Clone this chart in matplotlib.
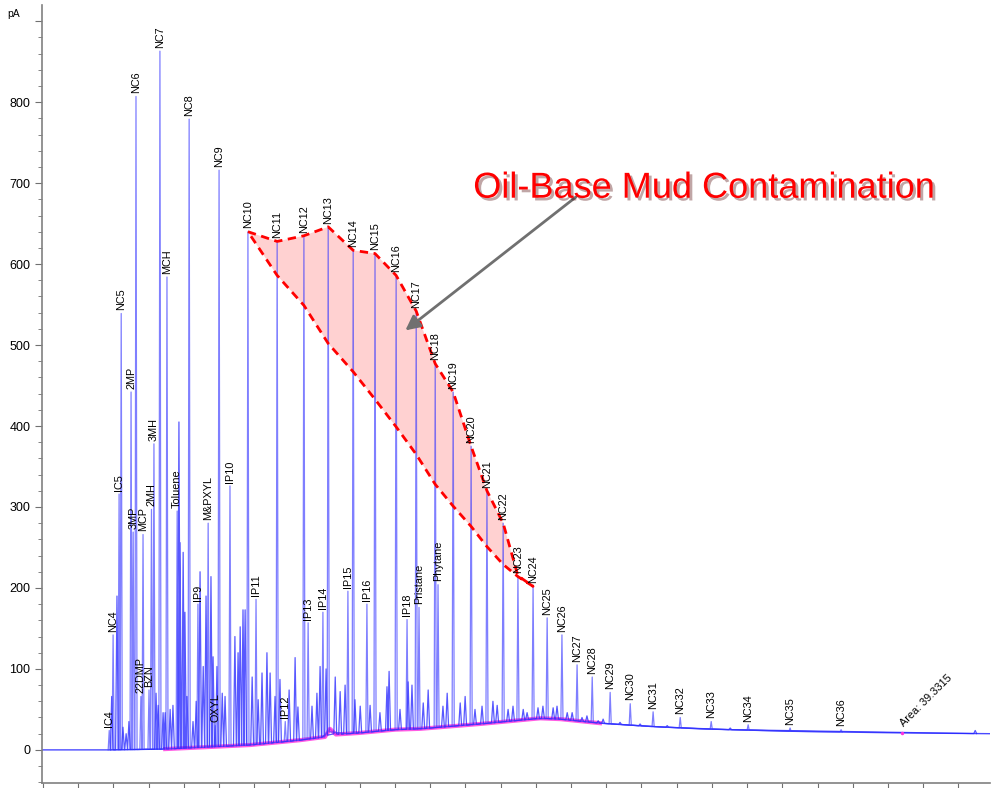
import numpy as np
import matplotlib
matplotlib.use("Agg")
import matplotlib.pyplot as plt
import matplotlib.patheffects as pe

plt.rcParams['font.family'] = ['Liberation Sans', 'DejaVu Sans']

# labelled peaks: retention time (min), apex height (pA)
peak_names = ["IC4", "NC4", "IC5", "NC5", "2MP", "3MP", "NC6", "22DMP", "MCP", "BZN",
              "2MH", "3MH", "NC7", "MCH", "Toluene", "NC8", "IP9", "M&PXYL", "OXYL", "NC9",
              "IP10", "NC10", "IP11", "NC11", "IP12", "NC12", "IP13", "IP14", "NC13", "IP15",
              "NC14", "IP16", "NC15", "NC16", "IP18", "NC17", "Pristane", "NC18", "Phytane", "NC19",
              "NC20", "NC21", "NC22", "NC23", "NC24", "NC25", "NC26", "NC27", "NC28", "NC29",
              "NC30", "NC31", "NC32", "NC33", "NC34", "NC35", "NC36"]
peak_rt = [1.88, 1.99, 2.16, 2.22, 2.50, 2.56, 2.64, 2.78, 2.84, 3.01,
           3.08, 3.15, 3.32, 3.52, 3.81, 4.15, 4.40, 4.69, 4.89, 5.00,
           5.31, 5.82, 6.05, 6.65, 6.88, 7.41, 7.53, 7.95, 8.10, 8.66,
           8.81, 9.20, 9.43, 10.03, 10.34, 10.60, 10.68, 11.14, 11.22, 11.65,
           12.16, 12.61, 13.07, 13.49, 13.92, 14.32, 14.74, 15.17, 15.60, 16.11,
           16.68, 17.33, 18.10, 18.98, 20.03, 21.22, 22.67]
peak_h = [24, 142, 316, 539, 442, 269, 807, 66, 266, 74,
          297, 378, 863, 584, 295, 779, 180, 280, 30, 716,
          326, 640, 186, 628, 35, 635, 157, 170, 646, 196,
          617, 180, 613, 586, 161, 542, 176, 477, 204, 442,
          375, 320, 280, 215, 202, 163, 142, 105, 90, 71,
          57, 47, 40, 35, 31, 27, 25]

# unlabelled peaks
minor_rt = [1.95, 2.10, 2.27, 2.36, 2.44, 3.21, 3.27, 3.41, 3.47, 3.61,
            3.69, 3.86, 3.89, 3.98, 4.03, 4.09, 4.26, 4.35, 4.46, 4.55,
            4.63, 4.77, 4.83, 4.94, 5.09, 5.17, 5.45, 5.54, 5.60, 5.68,
            5.74, 5.94, 6.11, 6.22, 6.36, 6.45, 6.59, 6.73, 6.99, 7.16,
            7.24, 7.64, 7.78, 7.87, 8.04, 8.30, 8.44, 8.58, 8.86, 9.01,
            9.29, 9.57, 9.77, 9.83, 10.14, 10.37, 10.48, 10.80, 10.94, 11.36,
            11.48, 11.85, 11.99, 12.27, 12.47, 12.78, 12.90, 13.21, 13.35, 13.64,
            13.75, 14.06, 14.20, 14.49, 14.60, 14.89, 15.03, 15.31, 15.45, 15.77,
            15.91, 16.39, 16.96, 17.73, 19.52, 26.48]
minor_h = [66, 190, 28, 20, 35, 70, 55, 46, 46, 50,
           55, 405, 256, 244, 170, 66, 35, 60, 220, 103,
           190, 214, 115, 103, 70, 66, 140, 120, 152, 173,
           173, 90, 62, 95, 120, 95, 66, 87, 74, 114,
           53, 54, 70, 103, 100, 90, 72, 80, 62, 54,
           55, 46, 78, 97, 50, 84, 80, 58, 74, 54,
           70, 58, 66, 50, 54, 60, 55, 50, 54, 50,
           46, 52, 54, 52, 54, 46, 46, 40, 42, 36,
           38, 34, 32, 30, 27, 24]

# baseline hump
base_rt = [-0.03, 1.85, 3.47, 4.46, 5.88, 7.30, 8.01, 8.15, 8.32, 9.01, 10.0,
           10.71, 12.41, 14.12, 14.69, 15.82, 17.24, 18.66, 21.22, 24.35, 26.9]
base_v = [0, 0, 1, 3, 6, 12, 16, 26, 19, 21, 25,
          26, 32, 39, 38, 33, 29, 26, 23, 21, 20]

# lower envelope of the contamination area at NC10..NC24
obm_names = ["NC10", "NC11", "NC12", "NC13", "NC14", "NC15", "NC16", "NC17",
             "NC18", "NC19", "NC20", "NC21", "NC22", "NC23", "NC24"]
obm_lower = [640, 586, 549, 502, 467, 433, 399, 365, 328, 301, 276, 251, 229, 214, 202]

area_rt, area_v = 24.40, 21


def trace(rt, h, w=0.03):
    rt = np.asarray(rt)
    h = np.asarray(h)
    order = np.argsort(rt)
    rt, h = rt[order], h[order]
    b = np.interp(rt, base_rt, base_v)
    xs, ys = [], []
    for t, top, bb in zip(rt, h, b):
        xs += [t - w, t, t + w]
        ys += [bb, top, bb]
    return xs, ys


fig = plt.figure(figsize=(9.94, 7.88), dpi=100)
ax = fig.add_axes([42 / 994, 5 / 788, 948 / 994, 778 / 788])

ax.plot(base_rt, base_v, color='#4a4aff', lw=1.0)
bt = np.array(base_rt)
m = (bt >= 3.4) & (bt <= 15.9)
ax.plot(bt[m], np.array(base_v)[m], color='#ff33dd', lw=3, alpha=0.8)

mx, my = trace(minor_rt, minor_h, 0.04)
ax.plot(mx, my, color='#2020ff', lw=0.9, alpha=0.75)
tx, ty = trace(peak_rt, peak_h, 0.03)
ax.plot(tx, ty, color='#3a3aff', lw=0.9, alpha=0.65)

for name, t, h in zip(peak_names, peak_rt, peak_h):
    ax.text(t, h + 4, name, rotation=90, ha='center', va='bottom', fontsize=7.8)

ax.plot(area_rt, area_v, marker='.', color='#ff33dd', ms=3)
ax.text(area_rt + 0.1, area_v + 6, "Area: 39.3315", rotation=45, ha='left', va='bottom',
        rotation_mode='anchor', fontsize=7.8)

# oil-base mud contamination area
ux = [peak_rt[peak_names.index(n)] for n in obm_names]
uy = [peak_h[peak_names.index(n)] for n in obm_names]
px = ux + ux[::-1]
py = uy + obm_lower[::-1]
ax.fill(px, py, facecolor=(1.0, 0.55, 0.55, 0.4), edgecolor='none')
ax.plot(px + [px[0]], py + [py[0]], color='#ff0000', lw=2, dashes=(3, 2))

ax.annotate('', xy=(10.23, 516), xytext=(15.2, 685),
            arrowprops=dict(arrowstyle='-|>', color='#707070', lw=2, mutation_scale=22))
ax.text(12.22, 682, "Oil-Base Mud Contamination", color='#ff0000', fontsize=26,
        path_effects=[pe.SimplePatchShadow(offset=(2, -2), alpha=0.35), pe.Normal()])

ax.set_xlim(-0.03, 26.9)
ax.set_ylim(-40.9, 920)
ax.set_xticks(np.arange(0, 27, 1))
ax.set_xticklabels([])
ax.set_yticks(np.arange(0, 1000, 100))
ax.set_yticklabels([str(v) for v in range(0, 900, 100)] + [''], fontsize=9)
ax.set_yticks(np.arange(-40, 920, 20), minor=True)
ax.tick_params(axis='both', which='major', length=5, color='#707070')
ax.tick_params(axis='y', which='minor', length=3, color='#707070')
for s in ['top', 'right']:
    ax.spines[s].set_visible(False)
for s in ['left', 'bottom']:
    ax.spines[s].set_color('#808080')
    ax.spines[s].set_linewidth(1.2)
fig.text(14 / 994, 1 - 14 / 788, "pA", fontsize=7.5, va='center', ha='center')

fig.savefig("out.png", dpi=100)
